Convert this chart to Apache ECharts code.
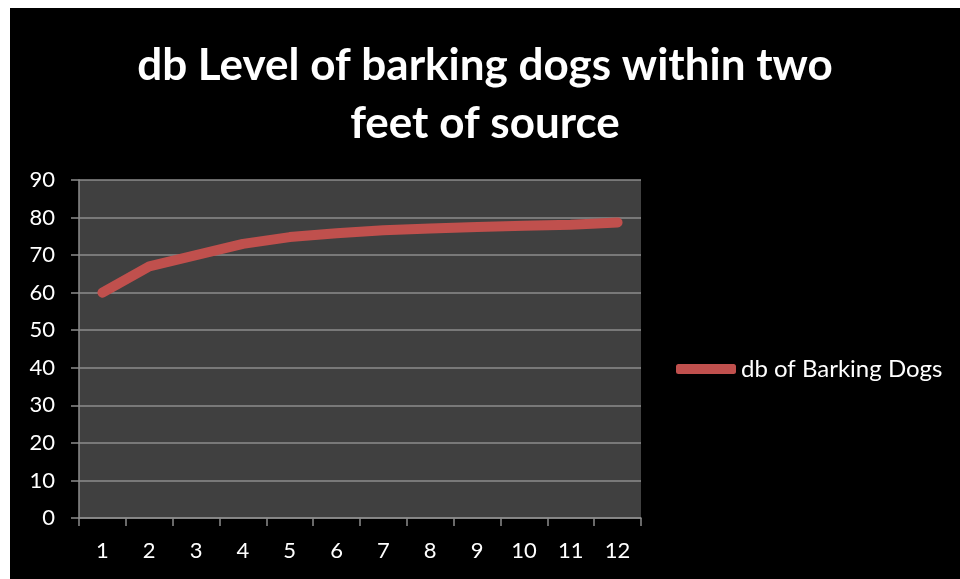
<!DOCTYPE html>
<html>
<head>
<meta charset="utf-8">
<script src="https://cdn.jsdelivr.net/npm/echarts@6/dist/echarts.min.js"></script>
<style>
  html, body { margin: 0; padding: 0; background: #ffffff; width: 960px; height: 579px; overflow: hidden; }
  #chart { position: absolute; left: 10px; top: 8px; width: 950px; height: 571px; background: #000000; }
</style>
</head>
<body>
<div id="chart"></div>
<script>
const titleText = "db Level of barking dogs within two\nfeet of source";
const categories = ["1", "2", "3", "4", "5", "6", "7", "8", "9", "10", "11", "12"];
const seriesName = "db of Barking Dogs";
const barkingDb = [60, 67, 70, 73, 74.8, 75.8, 76.6, 77.1, 77.5, 77.8, 78.1, 78.7];
const yTicks = { min: 0, max: 90, interval: 10 };

const chart = echarts.init(document.getElementById('chart'), null, { renderer: 'canvas' });
const font = 'Lato, "Open Sans", sans-serif';
chart.setOption({
  backgroundColor: '#000000',
  animation: false,
  title: {
    text: titleText,
    left: 'center',
    top: 24,
    textStyle: { color: '#ffffff', fontFamily: font, fontWeight: 'bold', fontSize: 44, lineHeight: 58 }
  },
  legend: {
    data: [{ name: seriesName, icon: 'roundRect' }],
    left: 661,
    top: 344,
    itemWidth: 60,
    itemHeight: 10,
    textStyle: { color: '#ffffff', fontFamily: font, fontSize: 24 }
  },
  grid: {
    left: 69, top: 172, width: 562, height: 338,
    show: true, backgroundColor: '#404040', borderWidth: 0
  },
  xAxis: {
    type: 'category',
    data: categories,
    boundaryGap: true,
    axisLine: { show: true, lineStyle: { color: '#8c8c8c', width: 1.5 } },
    axisTick: { show: true, alignWithLabel: false, length: 8, lineStyle: { color: '#8c8c8c', width: 1.5 } },
    axisLabel: { color: '#ffffff', fontFamily: font, fontSize: 22, margin: 22 },
    splitLine: { show: false }
  },
  yAxis: {
    type: 'value',
    min: yTicks.min, max: yTicks.max, interval: yTicks.interval,
    axisLine: { show: true, lineStyle: { color: '#8c8c8c', width: 1.5 } },
    axisTick: { show: true, length: 8, lineStyle: { color: '#8c8c8c', width: 1.5 } },
    axisLabel: { color: '#ffffff', fontFamily: font, fontSize: 22, margin: 24 },
    splitLine: { show: true, lineStyle: { color: '#8c8c8c', width: 1.5 } }
  },
  series: [{
    name: seriesName,
    type: 'line',
    data: barkingDb,
    symbol: 'none',
    color: '#c0504d',
    lineStyle: { color: '#c0504d', width: 10, cap: 'round', join: 'round' }
  }]
});
</script>
</body>
</html>
